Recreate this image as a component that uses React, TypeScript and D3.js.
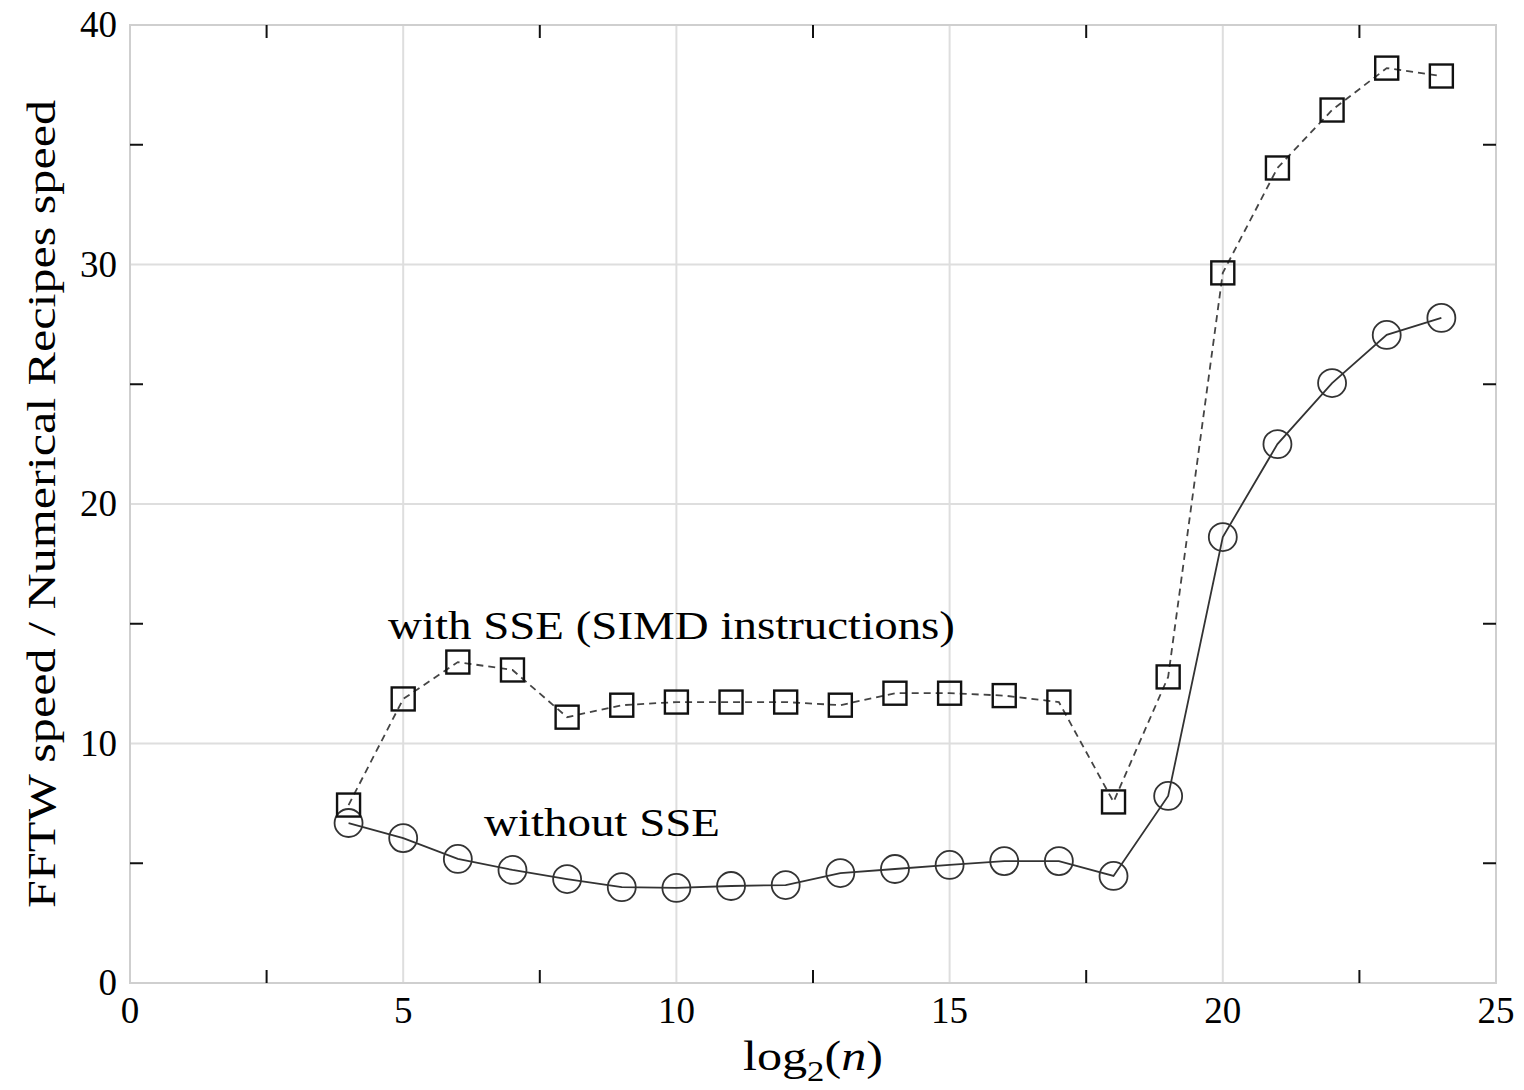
import React, { useEffect, useRef } from "react";
import * as d3 from "d3";

const logN = [4, 5, 6, 7, 8, 9, 10, 11, 12, 13, 14, 15, 16, 17, 18, 19, 20, 21, 22, 23, 24];
const withSSE = [7.43, 11.86, 13.4, 13.07, 11.1, 11.6, 11.73, 11.73, 11.73, 11.6, 12.1, 12.1, 12.0, 11.73, 7.56, 12.78, 29.65, 34.03, 36.45, 38.2, 37.87];
const withoutSSE = [6.68, 6.05, 5.18, 4.72, 4.34, 4.0, 3.97, 4.05, 4.09, 4.59, 4.76, 4.93, 5.09, 5.09, 4.47, 7.81, 18.62, 22.5, 25.05, 27.06, 27.77];
const xMajor = [0, 5, 10, 15, 20, 25];
const xMinor = [2.5, 7.5, 12.5, 17.5, 22.5];
const yMajor = [0, 10, 20, 30, 40];
const yMinor = [5, 15, 25, 35];

const App = () => {
  const svgRef = useRef<SVGSVGElement>(null);

  useEffect(() => {
    const width = 1524;
    const height = 1090;
    const margin = { top: 25, right: 28, bottom: 107, left: 130 };
    const font = "'Liberation Serif', 'DejaVu Serif', serif";

    const svg = d3.select(svgRef.current);
    svg.selectAll("*").remove();
    svg.attr("width", width).attr("height", height);

    const x = d3.scaleLinear().domain([0, 25]).range([margin.left, width - margin.right]);
    const y = d3.scaleLinear().domain([0, 40]).range([height - margin.bottom, margin.top]);
    const [x0, x1] = x.range();
    const [y0, y1] = y.range();

    // grid
    const grid = svg.append("g").attr("stroke", "#dedede").attr("stroke-width", 2);
    xMajor.slice(1, -1).forEach(v => {
      grid.append("line").attr("x1", x(v)).attr("x2", x(v)).attr("y1", y0).attr("y2", y1);
    });
    yMajor.slice(1, -1).forEach(v => {
      grid.append("line").attr("x1", x0).attr("x2", x1).attr("y1", y(v)).attr("y2", y(v));
    });

    // frame
    svg.append("rect")
      .attr("x", x0).attr("y", y1)
      .attr("width", x1 - x0).attr("height", y0 - y1)
      .attr("fill", "none").attr("stroke", "#cfcfcf").attr("stroke-width", 2);

    // minor ticks, inside
    const ticks = svg.append("g").attr("stroke", "#111").attr("stroke-width", 2);
    const tl = 13;
    xMinor.forEach(v => {
      ticks.append("line").attr("x1", x(v)).attr("x2", x(v)).attr("y1", y0).attr("y2", y0 - tl);
      ticks.append("line").attr("x1", x(v)).attr("x2", x(v)).attr("y1", y1).attr("y2", y1 + tl);
    });
    yMinor.forEach(v => {
      ticks.append("line").attr("x1", x0).attr("x2", x0 + tl).attr("y1", y(v)).attr("y2", y(v));
      ticks.append("line").attr("x1", x1).attr("x2", x1 - tl).attr("y1", y(v)).attr("y2", y(v));
    });

    // tick labels
    svg.append("g").selectAll("text")
      .data(xMajor)
      .join("text")
      .attr("x", d => x(d))
      .attr("y", y0 + 40)
      .attr("text-anchor", "middle")
      .style("font-family", font)
      .style("font-size", "37px")
      .text(d => d);

    svg.append("g").selectAll("text")
      .data(yMajor)
      .join("text")
      .attr("x", x0 - 13)
      .attr("y", d => y(d) + 12)
      .attr("text-anchor", "end")
      .style("font-family", font)
      .style("font-size", "37px")
      .text(d => d);

    // axis labels
    const xl = svg.append("text")
      .attr("x", 743)
      .attr("y", 1070)
      .attr("textLength", 140)
      .attr("lengthAdjust", "spacingAndGlyphs")
      .style("font-family", font)
      .style("font-size", "42px");
    xl.append("tspan").text("log");
    xl.append("tspan").attr("dy", 11).style("font-size", "29px").text("2");
    xl.append("tspan").attr("dy", -11).text("(");
    xl.append("tspan").style("font-style", "italic").text("n");
    xl.append("tspan").text(")");

    svg.append("text")
      .attr("transform", `translate(55, ${y(20)}) rotate(-90)`)
      .attr("text-anchor", "middle")
      .attr("textLength", 808)
      .attr("lengthAdjust", "spacingAndGlyphs")
      .style("font-family", font)
      .style("font-size", "41px")
      .text("FFTW speed / Numerical Recipes speed");

    // lines
    const sse = logN.map((n, i) => [n, withSSE[i]] as [number, number]);
    const noSse = logN.map((n, i) => [n, withoutSSE[i]] as [number, number]);
    const line = d3.line<[number, number]>()
      .x(d => x(d[0]))
      .y(d => y(d[1]));

    svg.append("path")
      .attr("d", line(noSse))
      .attr("fill", "none")
      .attr("stroke", "#333")
      .attr("stroke-width", 1.8);

    svg.append("path")
      .attr("d", line(sse))
      .attr("fill", "none")
      .attr("stroke", "#444")
      .attr("stroke-width", 1.8)
      .attr("stroke-dasharray", "7,5");

    // markers
    svg.append("g").selectAll("circle")
      .data(noSse)
      .join("circle")
      .attr("cx", d => x(d[0]))
      .attr("cy", d => y(d[1]))
      .attr("r", 14)
      .attr("fill", "none")
      .attr("stroke", "#333")
      .attr("stroke-width", 1.8);

    const s = 23;
    svg.append("g").selectAll("rect")
      .data(sse)
      .join("rect")
      .attr("x", d => x(d[0]) - s / 2)
      .attr("y", d => y(d[1]) - s / 2)
      .attr("width", s)
      .attr("height", s)
      .attr("fill", "none")
      .attr("stroke", "#111")
      .attr("stroke-width", 2.4);

    // annotations
    svg.append("text")
      .attr("x", 388)
      .attr("y", 639)
      .attr("textLength", 567)
      .attr("lengthAdjust", "spacingAndGlyphs")
      .style("font-family", font)
      .style("font-size", "40px")
      .text("with SSE (SIMD instructions)");

    svg.append("text")
      .attr("x", 484)
      .attr("y", 836)
      .attr("textLength", 236)
      .attr("lengthAdjust", "spacingAndGlyphs")
      .style("font-family", font)
      .style("font-size", "40px")
      .text("without SSE");
  }, []);

  return (
    <div style={{ position: "absolute", left: 0, top: 0, background: "white" }}>
      <svg ref={svgRef}></svg>
    </div>
  );
};

export default App;
